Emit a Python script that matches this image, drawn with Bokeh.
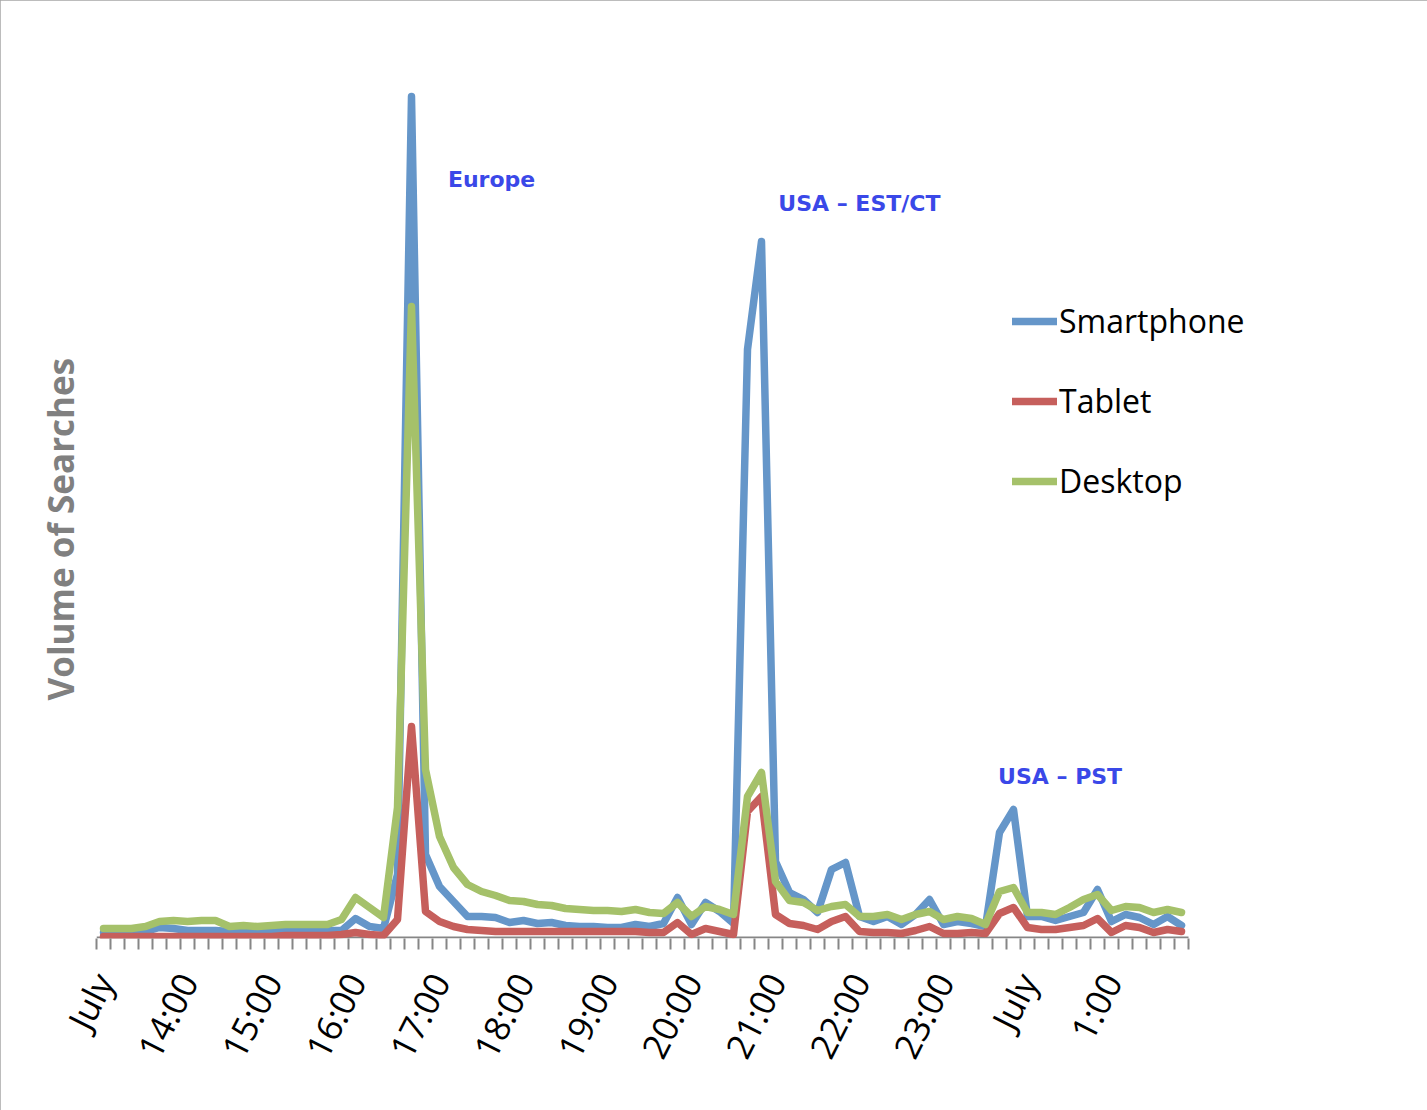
from bokeh.plotting import figure
from bokeh.models import Range1d, FixedTicker, Legend, LegendItem, Label, Title
from bokeh.embed import file_html
from bokeh.resources import INLINE

# ---- data (10-minute buckets, 13:00 -> 01:50) ----
times = [f"{(13 + k // 6) % 24}:{(k % 6) * 10:02d}" for k in range(78)]

smartphone = [5, 5, 5, 6, 10, 9, 7, 7, 7, 6,
              6, 6, 6, 6, 6, 7, 7, 7, 19, 11,
              9, 63, 841, 83, 51, 36, 21, 21, 20, 15,
              17, 14, 15, 12, 11, 11, 10, 10, 13, 11,
              14, 40, 13, 35, 26, 14, 588, 696, 76, 45,
              38, 25, 68, 75, 21, 16, 21, 13, 23, 38,
              13, 16, 14, 11, 105, 128, 21, 21, 17, 21,
              25, 48, 16, 23, 20, 13, 21, 12]

tablet = [1, 1, 1, 1, 1, 1, 1, 1, 1, 1,
          1, 1, 1, 2, 2, 2, 2, 3, 5, 3,
          2, 18, 211, 26, 16, 11, 8, 7, 6, 6,
          6, 6, 6, 6, 6, 6, 6, 6, 6, 5,
          5, 15, 3, 9, 6, 3, 126, 141, 23, 14,
          12, 8, 16, 21, 6, 5, 5, 4, 7, 11,
          4, 4, 5, 4, 24, 30, 10, 8, 8, 10,
          12, 19, 5, 12, 10, 5, 8, 6]

desktop = [9, 9, 9, 11, 16, 17, 16, 17, 17, 11,
           12, 11, 12, 13, 13, 13, 13, 18, 40, 30,
           20, 130, 631, 168, 101, 70, 53, 46, 42, 37,
           36, 33, 32, 29, 28, 27, 27, 26, 28, 25,
           24, 35, 21, 31, 28, 23, 141, 165, 56, 37,
           35, 27, 31, 33, 21, 21, 23, 18, 23, 26,
           18, 21, 19, 13, 46, 50, 25, 25, 23, 30,
           38, 43, 27, 31, 30, 25, 28, 25]

series_names = ["Smartphone", "Tablet", "Desktop"]
tick_labels = ["July", "14:00", "15:00", "16:00", "17:00", "18:00", "19:00",
               "20:00", "21:00", "22:00", "23:00", "July", "1:00"]
label_every = 6  # one label per hour

annotations = [("Europe", 24.6, 758), ("USA \u2013 EST/CT", 48.2, 734), ("USA \u2013 PST", 63.9, 161)]

colors = ["#6596C9", "#C65F5C", "#A5C16A"]
FONT = "Open Sans"
AXIS_GREY = "#868686"

n = len(times)
x = list(range(n))

# frame extends to the right of the data so the legend (drawn in the frame) is not clipped
p = figure(width=1427, height=1110, output_backend="svg", toolbar_location=None,
           x_range=Range1d(-0.5, n - 0.5 + 14), y_range=Range1d(-1, 899),
           min_border_left=96, min_border_right=43, min_border_top=38, min_border_bottom=172)
p.styles = {"outline": "1px solid #A6A6A6", "outline-offset": "-1px"}
p.background_fill_color = "white"
p.border_fill_color = "white"
p.outline_line_color = None
p.grid.visible = False

# category axis baseline (only under the data categories)
p.segment(x0=[-0.5], x1=[n - 0.5], y0=[0], y1=[0], line_color=AXIS_GREY, line_width=2)

renderers = []
for vals, c in zip([smartphone, tablet, desktop], colors):
    r = p.line(x, vals, line_width=7.5, line_color=c, line_join="round", line_cap="round")
    renderers.append(r)

# x axis
xa = p.xaxis[0]
tick_pos = list(range(0, n, label_every))
xa.ticker = FixedTicker(ticks=tick_pos, minor_ticks=[i - 0.5 for i in range(n + 1)])
xa.major_label_overrides = {t: lab for t, lab in zip(tick_pos, tick_labels)}
xa.axis_line_color = None
xa.major_tick_out = 0
xa.major_tick_in = 0
xa.minor_tick_out = 11
xa.minor_tick_in = 0
xa.minor_tick_line_color = AXIS_GREY
xa.minor_tick_line_width = 2
xa.major_label_orientation = 1.1
xa.major_label_text_font = FONT
xa.major_label_text_font_size = "35px"
xa.major_label_text_color = "black"
xa.major_label_standoff = 26

p.yaxis.visible = False
p.add_layout(Title(text="Volume of Searches", align="left", offset=238, standoff=26,
                   text_font=FONT, text_font_style="bold", text_font_size="35px",
                   text_color="#808080"), "left")

for txt, ax, ay in annotations:
    p.add_layout(Label(x=ax, y=ay, text=txt, text_font="DejaVu Sans", text_font_style="bold",
                       text_font_size="22px", text_color="#3A48E8", text_baseline="middle"))

legend = Legend(items=[LegendItem(label=s, renderers=[r]) for s, r in zip(series_names, renderers)],
                location=(916, 436), orientation="vertical",
                border_line_color=None, background_fill_alpha=0, padding=0, margin=0,
                glyph_width=45, glyph_height=40, label_height=40, spacing=37, label_standoff=2,
                label_text_font=FONT, label_text_font_size="32px", label_text_color="black")
p.add_layout(legend)

open("out.html", "w").write(file_html(p, INLINE, "Volume of Searches"))
